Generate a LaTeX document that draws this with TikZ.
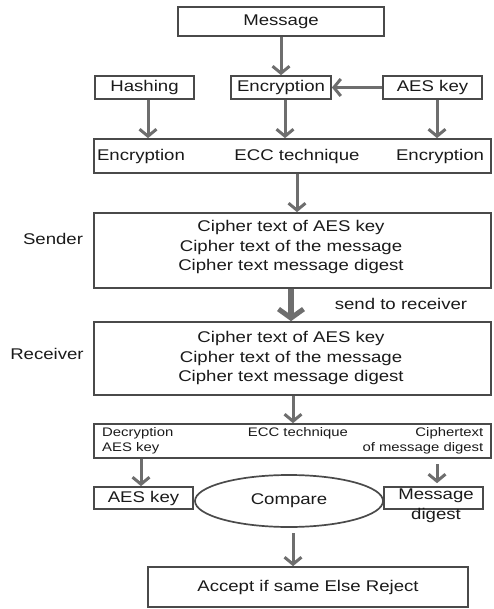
\documentclass[tikz,border=0pt]{standalone}
\usepackage{fontspec}
\setmainfont{Liberation Sans}[FakeStretch=1.2]
\usetikzlibrary{arrows.meta,shapes.geometric}
\definecolor{boxline}{HTML}{4A4A4A}
\definecolor{arrowgray}{HTML}{6E6E6E}
\definecolor{ink}{HTML}{1A1A1A}
\tikzset{
  box/.style={draw=boxline, line width=1.7pt, inner sep=0pt, text=ink},
  txt/.style={inner sep=0pt, text=ink, font=\fontsize{15.5}{19.5}\selectfont},
  smalltxt/.style={inner sep=0pt, text=ink, font=\fontsize{12.4}{15}\selectfont},
  arr/.style={draw=arrowgray, line width=3pt, -{Straight Barb[length=7pt,width=17pt,line width=3pt]}},
  bigarr/.style={draw=arrowgray, line width=5.5pt, -{Straight Barb[length=9pt,width=25pt,line width=5pt]}}
}
\begin{document}
\begin{tikzpicture}[x=1pt,y=-1pt]
\useasboundingbox (0,0) rectangle (494,609);

% top row
\node[box, txt, minimum width=206pt, minimum height=29pt] (msg) at (281,21.5) {Message};
\node[box, txt, minimum width=99pt, minimum height=23pt] (hash) at (144.5,87.5) {Hashing};
\node[box, txt, minimum width=100pt, minimum height=23pt] (enc) at (281,87.5) {Encryption};
\node[box, txt, minimum width=99pt, minimum height=23pt] (aes) at (432.5,87.5) {AES key};

% encryption stage
\node[box, minimum width=397pt, minimum height=34pt] (ecc) at (292.5,156) {};
\node[txt] (eccl) at (141,156) {Encryption};
\node[txt] (eccm) at (297,156) {ECC technique};
\node[txt] (eccr) at (440,156) {Encryption};

% sender
\node[box, minimum width=397pt, minimum height=75pt] (snd) at (292.5,250.5) {};
\node[txt, align=center] (sndt) at (291,247) {Cipher text of AES key\\Cipher text of the message\\Cipher text message digest};
\node[txt] (sndl) at (53,239) {Sender};

% receiver
\node[box, minimum width=397pt, minimum height=73pt] (rcv) at (292.5,358.5) {};
\node[txt, align=center] (rcvt) at (291,358) {Cipher text of AES key\\Cipher text of the message\\Cipher text message digest};
\node[txt] (rcvl) at (47,354) {Receiver};
\node[txt] (sendlbl) at (401,304) {send to receiver};

% decryption stage
\node[box, minimum width=397pt, minimum height=34pt] (dec) at (292.5,441) {};
\node[smalltxt, align=left, anchor=west] (decl) at (102,440.5) {Decryption\\AES key};
\node[smalltxt] (decm) at (298,433) {ECC technique};
\node[smalltxt, align=right, anchor=east] (decr) at (483.5,440.5) {Ciphertext\\of message digest};

% compare row
\node[box, txt, minimum width=99pt, minimum height=22pt] (aes2) at (143.5,498) {AES key};
\node[box, ellipse, minimum width=188pt, minimum height=52pt, txt] (cmp) at (289,501) {Compare};
\node[box, minimum width=99pt, minimum height=22pt] (md) at (433.5,498) {};
\node[txt, align=center] (mdt) at (436,506) {Message\\digest};

% result
\node[box, txt, minimum width=320pt, minimum height=40pt] (acc) at (308,587) {Accept if same Else Reject};

% connectors
\draw[arr] (msg.south) -- (enc.north);
\draw[arr] (aes.west) -- (enc.east);
\draw[arr] ([xshift=3.5pt]hash.south) -- ([xshift=3.5pt]hash.south |- ecc.north);
\draw[arr] ([xshift=4pt]enc.south) -- ([xshift=4pt]enc.south |- ecc.north);
\draw[arr] ([xshift=4.5pt]aes.south) -- ([xshift=4.5pt]aes.south |- ecc.north);
\draw[arr] (ecc.south -| eccm) -- (eccm |- snd.north);
\draw[bigarr] (snd.south -| sndt) -- (sndt |- rcv.north);
\draw[arr] ([xshift=0.5pt]rcv.south) -- ([xshift=0.5pt]rcv.south |- dec.north);
\draw[arr] (dec.south -| 141,0) -- (aes2.north -| 141,0);
\coordinate (mdtop) at (437,464);
\draw[arr] (mdtop) -- ([yshift=3pt]mdtop |- md.north);
\coordinate (cmpout) at (293,533);
\draw[arr] (cmpout) -- (cmpout |- acc.north);
\end{tikzpicture}
\end{document}
